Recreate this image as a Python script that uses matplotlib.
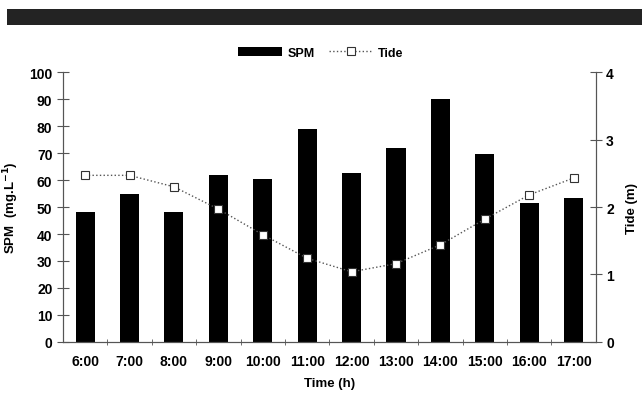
import matplotlib.pyplot as plt
import numpy as np
from matplotlib.patches import Rectangle

plt.rcParams['font.family'] = ['Liberation Sans', 'DejaVu Sans']
plt.rcParams['font.weight'] = 'bold'

hours = ['6:00', '7:00', '8:00', '9:00', '10:00', '11:00', '12:00',
         '13:00', '14:00', '15:00', '16:00', '17:00']
spm = [48, 55, 48, 62, 60.5, 79, 62.5, 72, 90, 69.5, 51.5, 53.5]
tide = [2.47, 2.47, 2.3, 1.97, 1.59, 1.24, 1.04, 1.16, 1.44, 1.82, 2.18, 2.43]

x = np.arange(len(hours))

fig = plt.figure(figsize=(6.42, 4.02), dpi=100)
# dark band at the top
fig.patches.append(Rectangle((0.011, 0.935), 0.989, 0.04, transform=fig.transFigure,
                             facecolor='#232323', edgecolor='none'))

ax = fig.add_axes([0.098, 0.147, 0.83, 0.671])
bars = ax.bar(x, spm, width=0.43, color='black', label='SPM', zorder=2)
ax.set_ylim(0, 100)
ax.set_xlim(-0.5, len(hours) - 0.5)
ax.set_yticks(range(0, 101, 10))
ax.set_xticks(x)
ax.set_xticklabels(hours)
ax.set_xticks(x[:-1] + 0.5, minor=True)
ax.tick_params(axis='x', which='major', length=0, pad=9, labelsize=10)
ax.tick_params(axis='x', which='minor', length=5, direction='inout', color='#555555')
ax.tick_params(axis='y', length=8, direction='inout', color='#555555', labelsize=10)
ax.spines['top'].set_visible(False)
for s in ['left', 'right', 'bottom']:
    ax.spines[s].set_color('#555555')
    ax.spines[s].set_linewidth(0.8)
ax.set_ylabel('SPM  (mg.L$^{\\mathbf{-1}}$)', fontsize=9.5, fontweight='bold', labelpad=6)
ax.set_xlabel('Time (h)', fontsize=9.5, fontweight='bold', labelpad=6)

ax2 = ax.twinx()
line, = ax2.plot(x, tide, linestyle=':', color='#555555', linewidth=1.0,
                 marker='s', markersize=6, markerfacecolor='white',
                 markeredgecolor='#333333', markeredgewidth=0.8, label='Tide', zorder=3)
ax2.set_ylim(0, 4)
ax2.set_yticks(range(0, 5))
ax2.tick_params(axis='y', length=8, direction='inout', color='#555555', labelsize=10)
ax2.spines['top'].set_visible(False)
for s in ['left', 'right', 'bottom']:
    ax2.spines[s].set_color('#555555')
    ax2.spines[s].set_linewidth(0.8)
ax2.set_ylabel('Tide (m)', fontsize=9.5, fontweight='bold', labelpad=9)

fig.legend([bars, line], ['SPM', 'Tide'], loc='center', bbox_to_anchor=(0.5, 0.866),
           ncol=2, frameon=False, fontsize=9, handlelength=3.5, columnspacing=1.2,
           handletextpad=0.4)

fig.savefig('out.png', dpi=100)
